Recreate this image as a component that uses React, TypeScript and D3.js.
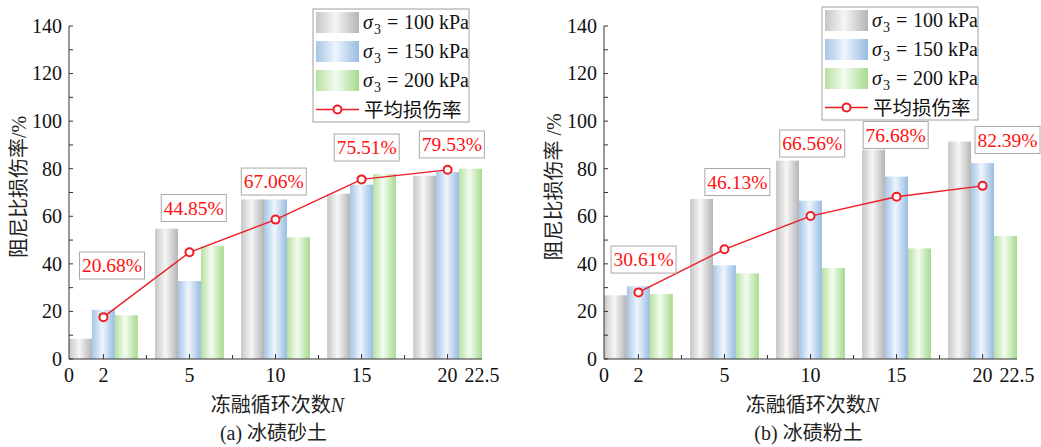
import React from "react";
import * as d3 from "d3";

// Freeze–thaw cycle categories and axis tick labels
const categories = ["2", "5", "10", "15", "20"];
const xTickLabels = ["0", "2", "5", "10", "15", "20", "22.5"];
const seriesNames = ["100", "150", "200"];
const lineName = "平均损伤率";

// (a) 冰碛砂土 — damping ratio damage rate (%)
const sandGray = [8.5, 54.8, 67.06, 69.5, 77.0];
const sandBlue = [20.68, 32.8, 67.06, 73.3, 78.6];
const sandGreen = [18.4, 47.5, 51.2, 77.8, 80.0];
const sandAvg = [17.6, 44.85, 58.6, 75.51, 79.53];
const sandLabels = [20.68, 44.85, 67.06, 75.51, 79.53];
// label anchors in data units: [category index, value]
const sandLabelAt = [[1.1, 39.3], [2.05, 63.5], [2.98, 74.6], [4.06, 88.9], [5.05, 90.2]];

// (b) 冰碛粉土
const siltGray = [26.8, 67.3, 83.4, 88.0, 91.4];
const siltBlue = [30.61, 39.4, 66.56, 76.68, 82.39];
const siltGreen = [27.3, 36.0, 38.3, 46.5, 51.7];
const siltAvg = [28.0, 46.13, 60.1, 68.2, 72.8];
const siltLabels = [30.61, 46.13, 66.56, 76.68, 82.39];
const siltLabelAt = [[1.06, 41.8], [2.15, 74.4], [3.02, 90.6], [3.99, 94.2], [5.29, 92.1]];

const FONT = "Liberation Serif, Times New Roman, Noto Sans CJK SC, serif";
const RED = "#f01c24";
const AXIS = "#333";
const gradIds = ["gGray", "gBlue", "gGreen"];
const gradStops = [
  ["#c6c6c6", "#f6f6f6", "#b4b4b4"],
  ["#a6c5e6", "#eef5fd", "#98bce1"],
  ["#b6e1a1", "#f3fcf0", "#a6da8e"],
];

type PanelProps = {
  left: number;
  gray: number[];
  blue: number[];
  green: number[];
  avg: number[];
  labels: number[];
  labelAt: number[][];
  yTitle: string;
  caption: string;
  legendX: number;
  legendY: number;
};

function Panel(p: PanelProps) {
  const x = d3.scaleLinear().domain([0.6, 5.4]).range([p.left, p.left + 413]);
  const y = d3.scaleLinear().domain([0, 140]).range([359, 26]);
  const groupW = 0.8;
  const bw = groupW / 3;
  const series = [p.gray, p.blue, p.green];
  const line = d3
    .line<number>()
    .x((_, i) => x(i + 1))
    .y((d) => y(d));
  const majors = y.ticks(7);
  const minors = d3.range(10, 140, 20);
  const xMajor = d3.range(1, categories.length + 1);
  const xMinor = d3.range(1.5, categories.length, 1);
  const xTickPos = [0.6, 1, 2, 3, 4, 5, 5.4];
  const [x0, x1] = x.range();
  const midX = (x0 + x1) / 2;
  return (
    <g fontFamily={FONT}>
      {/* bars */}
      {series.map((vals, j) =>
        vals.map((v, i) => {
          const xs = x(i + 1 - groupW / 2 + j * bw);
          const xe = x(i + 1 - groupW / 2 + (j + 1) * bw);
          return (
            <rect
              key={`b${j}-${i}`}
              x={xs}
              y={y(v)}
              width={xe - xs}
              height={y(0) - y(v)}
              fill={`url(#${gradIds[j]})`}
            />
          );
        })
      )}
      {/* axes */}
      <line x1={x0} x2={x0} y1={y(0)} y2={y(140)} stroke={AXIS} strokeWidth={1} />
      <line x1={x0} x2={x1} y1={y(0)} y2={y(0)} stroke={AXIS} strokeWidth={1} />
      {majors.map((t) => (
        <g key={`ym${t}`}>
          <line x1={x0} x2={x0 + 4} y1={y(t)} y2={y(t)} stroke={AXIS} />
          <text x={x0 - 7} y={y(t)} dy="0.34em" textAnchor="end" fontSize={20} fill="#111">
            {t}
          </text>
        </g>
      ))}
      {minors.map((t) => (
        <line key={`yn${t}`} x1={x0} x2={x0 + 4} y1={y(t)} y2={y(t)} stroke={AXIS} />
      ))}
      {xMajor.map((t) => (
        <line key={`xm${t}`} x1={x(t)} x2={x(t)} y1={y(0)} y2={y(0) - 5} stroke={AXIS} />
      ))}
      {xMinor.map((t) => (
        <line key={`xn${t}`} x1={x(t)} x2={x(t)} y1={y(0)} y2={y(0) - 4} stroke={AXIS} />
      ))}
      {xTickPos.map((t, i) => (
        <text key={`xl${i}`} x={x(t)} y={382} textAnchor="middle" fontSize={20} fill="#111">
          {xTickLabels[i]}
        </text>
      ))}
      {/* average damage line */}
      <path d={line(p.avg) || ""} fill="none" stroke={RED} strokeWidth={1.4} />
      {p.avg.map((v, i) => (
        <circle key={`c${i}`} cx={x(i + 1)} cy={y(v)} r={4} fill="#fff" stroke={RED} strokeWidth={2} />
      ))}
      {/* value labels */}
      {p.labels.map((v, i) => {
        const cx = x(p.labelAt[i][0]);
        const cy = y(p.labelAt[i][1]);
        const w = 65;
        const h = 27;
        return (
          <g key={`l${i}`}>
            <rect x={cx - w / 2} y={cy - h / 2} width={w} height={h} fill="#fff" stroke="#a8a8a8" strokeWidth={1} />
            <text x={cx} y={cy} dy="0.35em" textAnchor="middle" fontSize={19.5} fill="#ff1010">
              {v.toFixed(2)}%
            </text>
          </g>
        );
      })}
      {/* titles */}
      <text
        transform={`translate(${x0 - 50},187) rotate(-90)`}
        textAnchor="middle"
        dy="0.35em"
        fontSize={20}
        fill="#222"
      >
        {p.yTitle}
      </text>
      <text x={midX + 2} y={412} textAnchor="middle" fontSize={20} fill="#222">
        冻融循环次数<tspan fontStyle="italic">N</tspan>
      </text>
      <text x={midX - 2} y={440} textAnchor="middle" fontSize={20} fill="#222">
        {p.caption}
      </text>
      {/* legend */}
      <g transform={`translate(${p.legendX},${p.legendY})`}>
        <rect x={0} y={0} width={156} height={113} fill="#fff" stroke="#a0a0a0" strokeWidth={1} />
        {seriesNames.map((s, j) => {
          const cy = 13.5 + j * 29;
          return (
            <g key={`lg${j}`}>
              <rect x={3} y={cy - 10.5} width={43} height={21} fill={`url(#${gradIds[j]})`} />
              <text y={cy + 6.5} fontSize={20} fill="#111">
                <tspan x={50} fontStyle="italic">σ</tspan>
                <tspan x={61} fontSize={14} dy={5}>3</tspan>
                <tspan x={74} dy={-5} fontSize={20}>=</tspan>
                <tspan x={91} fontSize={20}>{`${s} kPa`}</tspan>
              </text>
            </g>
          );
        })}
        <line x1={3} x2={46} y1={13.5 + 3 * 29} y2={13.5 + 3 * 29} stroke={RED} strokeWidth={1.4} />
        <circle cx={24.5} cy={13.5 + 3 * 29} r={4} fill="#fff" stroke={RED} strokeWidth={2} />
        <text x={51} y={13.5 + 3 * 29 + 7} fontSize={19.5} fill="#111">
          {lineName}
        </text>
      </g>
    </g>
  );
}

export default function App() {
  return (
    <svg
      width={1041}
      height={447}
      style={{ position: "absolute", left: 0, top: 0, background: "#fff" }}
    >
      <defs>
        {gradIds.map((id, j) => (
          <linearGradient key={id} id={id} x1="0" x2="1" y1="0" y2="0">
            <stop offset="0" stopColor={gradStops[j][0]} />
            <stop offset="0.45" stopColor={gradStops[j][1]} />
            <stop offset="1" stopColor={gradStops[j][2]} />
          </linearGradient>
        ))}
      </defs>
      <rect width={1041} height={447} fill="#fff" />
      <Panel
        left={69}
        gray={sandGray}
        blue={sandBlue}
        green={sandGreen}
        avg={sandAvg}
        labels={sandLabels}
        labelAt={sandLabelAt}
        yTitle="阻尼比损伤率/%"
        caption="(a) 冰碛砂土"
        legendX={313}
        legendY={9}
      />
      <Panel
        left={604}
        gray={siltGray}
        blue={siltBlue}
        green={siltGreen}
        avg={siltAvg}
        labels={siltLabels}
        labelAt={siltLabelAt}
        yTitle="阻尼比损伤率 /%"
        caption="(b) 冰碛粉土"
        legendX={822}
        legendY={7}
      />
    </svg>
  );
}
